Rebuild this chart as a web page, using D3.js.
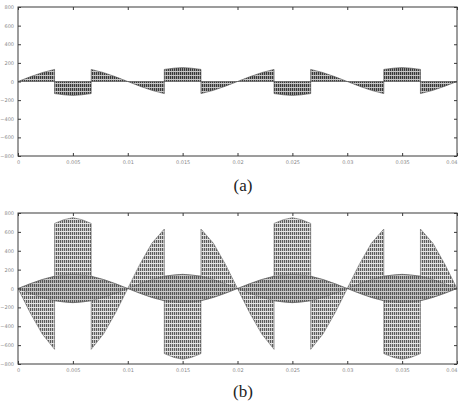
<!DOCTYPE html>
<html>
<head>
<meta charset="utf-8">
<script src="https://cdn.jsdelivr.net/npm/d3@7"></script>
<style>
  body { margin: 0; background: #fff; }
  svg { display: block; }
</style>
</head>
<body>
<div id="chart"></div>
<script>
// time points (s), two fundamental periods; repeated t = a step
var timeA = [0, 0.0011, 0.0022, 0.00333, 0.00333, 0.0042, 0.005, 0.0058, 0.00667, 0.00667, 0.0078, 0.0089, 0.010,
             0.0111, 0.0122, 0.01333, 0.01333, 0.0142, 0.015, 0.0158, 0.01667, 0.01667, 0.0178, 0.0189, 0.020,
             0.0211, 0.0222, 0.02333, 0.02333, 0.0242, 0.025, 0.0258, 0.02667, 0.02667, 0.0278, 0.0289, 0.030,
             0.0311, 0.0322, 0.03333, 0.03333, 0.0342, 0.035, 0.0358, 0.03667, 0.03667, 0.0378, 0.0389, 0.040];

// (a) output voltage envelope
var voltA = [0, 50, 95, 130, -130, -143, -150, -143, -130, 130, 95, 50, 0,
             -50, -95, -130, 130, 143, 150, 143, 130, -130, -95, -50, 0,
             50, 95, 130, -130, -143, -150, -143, -130, 130, 95, 50, 0,
             -50, -95, -130, 130, 143, 150, 143, 130, -130, -95, -50, 0];

// (b) upper and lower switching envelopes
var upperB = [0, 50, 95, 130, 690, 730, 750, 730, 690, 130, 95, 50, 0,
              255, 480, 630, 130, 143, 150, 143, 130, 630, 480, 255, 0,
              50, 95, 130, 690, 730, 750, 730, 690, 130, 95, 50, 0,
              255, 480, 630, 130, 143, 150, 143, 130, 630, 480, 255, 0];
var lowerB = [0, -255, -480, -645, -130, -143, -150, -143, -130, -645, -480, -255, 0,
              -50, -95, -130, -690, -730, -750, -730, -690, -130, -95, -50, 0,
              -255, -480, -645, -130, -143, -150, -143, -130, -645, -480, -255, 0,
              -50, -95, -130, -690, -730, -750, -730, -690, -130, -95, -50, 0];
// (b) small fundamental band
var smallB = [0, 50, 95, 130, 130, 143, 150, 143, 130, 130, 95, 50, 0,
              50, 95, 130, 130, 143, 150, 143, 130, 130, 95, 50, 0,
              50, 95, 130, 130, 143, 150, 143, 130, 130, 95, 50, 0,
              50, 95, 130, 130, 143, 150, 143, 130, 130, 95, 50, 0];

var xTicks = [0, 0.005, 0.01, 0.015, 0.02, 0.025, 0.03, 0.035, 0.04];
var xTickLabels = ["0", "0.005", "0.01", "0.015", "0.02", "0.025", "0.03", "0.035", "0.04"];
var yTicks = [-800, -600, -400, -200, 0, 200, 400, 600, 800];
var captions = ["(a)", "(b)"];

var width = 460, height = 407;

var svg = d3.select("#chart").append("svg")
    .attr("width", width)
    .attr("height", height);

var defs = svg.append("defs");

// hatch pattern for (a)
var pa = defs.append("pattern")
    .attr("id", "hatchA")
    .attr("patternUnits", "userSpaceOnUse")
    .attr("width", 2).attr("height", 4);
pa.append("rect").attr("width", 2).attr("height", 4).attr("fill", "#9a9a9a");
pa.append("rect").attr("width", 1).attr("height", 4).attr("fill", "#383838");
pa.append("rect").attr("y", 3).attr("width", 2).attr("height", 1).attr("fill", "#c8c8c8");

// hatch pattern for (b)
var pb = defs.append("pattern")
    .attr("id", "hatchB")
    .attr("patternUnits", "userSpaceOnUse")
    .attr("width", 2).attr("height", 4);
pb.append("rect").attr("width", 2).attr("height", 4).attr("fill", "#c4c4c4");
pb.append("rect").attr("width", 1).attr("height", 4).attr("fill", "#5c5c5c");
pb.append("rect").attr("y", 3).attr("width", 2).attr("height", 1).attr("fill", "#e6e6e6");

var x = d3.scaleLinear().domain([0, 0.04]).range([18, 457]);

function frame(top, bottom) {
    var y = d3.scaleLinear().domain([-800, 800]).range([bottom, top]);
    var g = svg.append("g");
    return { y: y, g: g };
}

function drawAxes(p, top, bottom) {
    var g = p.g;
    g.append("rect")
        .attr("x", x.range()[0]).attr("y", top)
        .attr("width", x.range()[1] - x.range()[0])
        .attr("height", bottom - top)
        .attr("fill", "none")
        .attr("stroke", "#3a3a3a")
        .attr("stroke-width", 1);

    var fmt = function(d, i) { return xTickLabels[i]; };

    var bx = g.append("g").attr("transform", "translate(0," + bottom + ")")
        .call(d3.axisBottom(x).tickValues(xTicks).tickFormat(fmt).tickSize(-3).tickPadding(4));
    bx.selectAll(".tick:last-of-type text").attr("text-anchor", "end");
    g.append("g").attr("transform", "translate(0," + top + ")")
        .call(d3.axisTop(x).tickValues(xTicks).tickFormat("").tickSize(-3));
    g.append("g").attr("transform", "translate(" + x.range()[0] + ",0)")
        .call(d3.axisLeft(p.y).tickValues(yTicks).tickSize(-3).tickPadding(4));
    g.append("g").attr("transform", "translate(" + x.range()[1] + ",0)")
        .call(d3.axisRight(p.y).tickValues(yTicks).tickFormat("").tickSize(-3));

    g.selectAll(".domain").attr("stroke", "none");
    g.selectAll(".tick line").attr("stroke", "#3a3a3a");
    g.selectAll(".tick text")
        .attr("font-family", "DejaVu Sans")
        .attr("font-size", "5px")
        .attr("fill", "#8a8a8a");
}

// ----- (a)
var topA = 7, botA = 156;
var pA = frame(topA, botA);

var areaA = d3.area()
    .x(function(d, i) { return x(timeA[i]); })
    .y0(pA.y(0))
    .y1(function(d) { return pA.y(d); });

pA.g.append("path")
    .datum(voltA)
    .attr("d", areaA)
    .attr("fill", "url(#hatchA)")
    .attr("stroke", "#4a4a4a")
    .attr("stroke-width", 0.6);

drawAxes(pA, topA, botA);

// ----- (b)
var topB = 213, botB = 364;
var pB = frame(topB, botB);

var areaB = d3.area()
    .x(function(d, i) { return x(timeA[i]); })
    .y0(function(d, i) { return pB.y(lowerB[i]); })
    .y1(function(d, i) { return pB.y(upperB[i]); });

pB.g.append("path")
    .datum(upperB)
    .attr("d", areaB)
    .attr("fill", "url(#hatchB)")
    .attr("stroke", "#6a6a6a")
    .attr("stroke-width", 0.6);

var bandB = d3.area()
    .x(function(d, i) { return x(timeA[i]); })
    .y0(function(d) { return pB.y(-d); })
    .y1(function(d) { return pB.y(d); });

pB.g.append("path")
    .datum(smallB)
    .attr("d", bandB)
    .attr("fill", "#3a3a3a")
    .attr("fill-opacity", 0.16)
    .attr("stroke", "#444")
    .attr("stroke-opacity", 0.6)
    .attr("stroke-width", 0.5);

drawAxes(pB, topB, botB);

// captions
svg.selectAll(".caption")
    .data(captions)
    .enter()
    .append("text")
    .attr("class", "caption")
    .attr("x", 243)
    .attr("y", function(d, i) { return i === 0 ? 191 : 397; })
    .attr("text-anchor", "middle")
    .attr("font-family", "Liberation Serif")
    .attr("font-size", "17px")
    .attr("fill", "#222")
    .text(function(d) { return d; });
</script>
</body>
</html>
